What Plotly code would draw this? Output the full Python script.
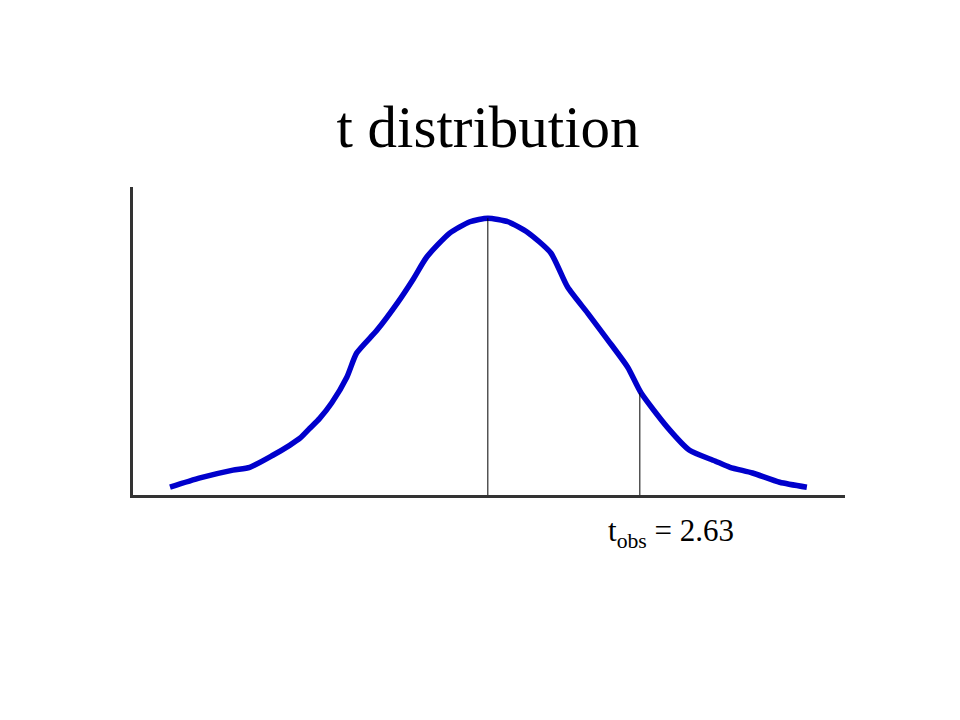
import plotly.graph_objects as go

# Curve points (t value, density height)
t_vals = [-5.50, -4.98, -4.41, -4.12, -3.72, -3.43, -3.25, -3.08, -2.91, -2.70,
          -2.44, -2.27, -1.92, -1.57, -1.30, -1.06, -0.66, -0.31, 0.00, 0.35,
          0.69, 1.09, 1.38, 1.73, 2.08, 2.42, 2.65, 3.10, 3.49, 3.93,
          4.19, 4.58, 5.05, 5.52]
density = [0.011, 0.024, 0.035, 0.039, 0.056, 0.070, 0.080, 0.094, 0.108, 0.130,
           0.166, 0.200, 0.232, 0.270, 0.303, 0.335, 0.369, 0.385, 0.390, 0.385,
           0.370, 0.341, 0.293, 0.256, 0.218, 0.180, 0.144, 0.096, 0.063, 0.048,
           0.039, 0.031, 0.018, 0.011]

# Reference lines: centre and observed statistic
marker_t = [0.0, 2.63]
marker_h = [0.390, 0.144]
t_obs_label = "t<sub>obs</sub> = 2.63"
title_text = "t distribution"

SERIF = "Liberation Serif, Times New Roman, serif"

fig = go.Figure()
fig.add_trace(go.Scatter(x=t_vals, y=density, mode="lines",
                         line=dict(color="#0000cc", width=5.5, shape="spline", smoothing=0.6),
                         hoverinfo="skip", showlegend=False))
for mt, mh in zip(marker_t, marker_h):
    fig.add_trace(go.Scatter(x=[mt, mt], y=[0, mh], mode="lines",
                             line=dict(color="black", width=1),
                             hoverinfo="skip", showlegend=False))

fig.add_annotation(x=3.17, y=-0.123, xref="x", yref="paper", text=t_obs_label,
                   showarrow=False, yanchor="middle",
                   font=dict(family=SERIF, size=31, color="black"))

fig.update_layout(
    width=960, height=720,
    paper_bgcolor="white", plot_bgcolor="white",
    margin=dict(l=125, r=123, t=179, b=233),
    title=dict(text=title_text, x=0.5, xanchor="center", y=1 - 118 / 720, yanchor="middle",
               yref="container",
               font=dict(family=SERIF, size=59, color="black")),
    xaxis=dict(range=[-6.14, 6.18], showgrid=False, zeroline=False, showticklabels=False,
               ticks="", showline=True, linecolor="#333333", linewidth=3),
    yaxis=dict(range=[0, 0.434], showgrid=False, zeroline=False, showticklabels=False,
               ticks="", showline=True, linecolor="#333333", linewidth=3),
)

fig.write_html("out.html")
